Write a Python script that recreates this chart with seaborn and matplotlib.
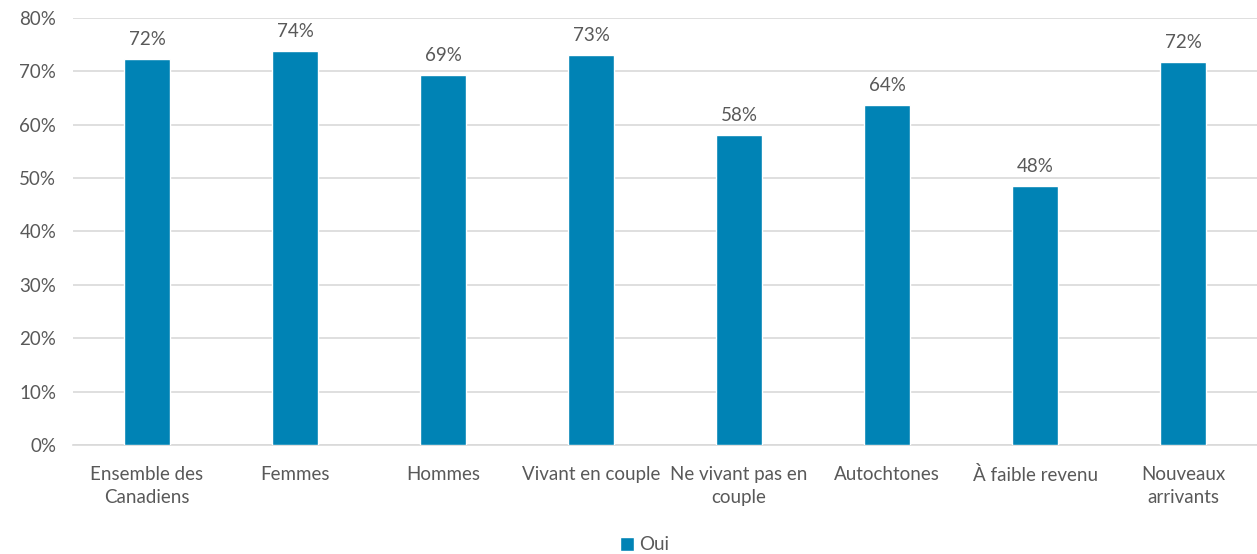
import matplotlib
matplotlib.use("Agg")
import matplotlib.pyplot as plt
import seaborn as sns
import pandas as pd
from matplotlib.ticker import MultipleLocator, FuncFormatter

categories = ["Ensemble des\nCanadiens", "Femmes", "Hommes", "Vivant en couple",
              "Ne vivant pas en\ncouple", "Autochtones", "À faible revenu",
              "Nouveaux\narrivants"]
oui = [72.3, 73.8, 69.3, 73.0, 58.1, 63.6, 48.5, 71.8]
series_name = "Oui"

BAR = "#0083B5"
TEXT = "#595959"
GRID = "#D9D9D9"
FS = 13.5

sns.set_theme(style="white")
plt.rcParams["font.family"] = ["Lato", "DejaVu Sans"]

df = pd.DataFrame({"cat": categories, "val": oui})

fig = plt.figure(figsize=(12.57, 5.54), dpi=100)
ax = fig.add_axes([0.0581, 0.1968, 0.942, 0.7708])

sns.barplot(data=df, x="cat", y="val", color=BAR, width=0.31, saturation=1,
            label=series_name, ax=ax, zorder=3, legend=False)

ax.set_ylim(0, 80)
ax.set_xlim(-0.5, len(categories) - 0.5)
ax.yaxis.set_major_locator(MultipleLocator(10))
ax.yaxis.set_major_formatter(FuncFormatter(lambda v, p: f"{v:.0f}%"))
ax.grid(axis="y", color=GRID, linewidth=1.2, zorder=0)
ax.set_axisbelow(True)
for s in ["top", "right", "left"]:
    ax.spines[s].set_visible(False)
ax.spines["bottom"].set_color(GRID)
ax.spines["bottom"].set_linewidth(1.2)

ax.set_xlabel("")
ax.set_ylabel("")
ax.tick_params(axis="both", length=0, labelsize=FS, colors=TEXT)
ax.tick_params(axis="x", pad=15)
ax.tick_params(axis="y", pad=12)
for t in ax.get_xticklabels():
    t.set_linespacing(1.45)

for cont in ax.containers:
    ax.bar_label(cont, labels=[f"{v:.0f}%" for v in oui], padding=8,
                 fontsize=FS, color=TEXT)

handles, labels = ax.get_legend_handles_labels()
leg = fig.legend(handles, labels, loc="center", bbox_to_anchor=(0.513, 1 - 545 / 554),
                 frameon=False, fontsize=FS, handlelength=0.7, handleheight=0.7,
                 handletextpad=0.3)
for txt in leg.get_texts():
    txt.set_color(TEXT)

fig.savefig("out.png", dpi=100, facecolor="white")
